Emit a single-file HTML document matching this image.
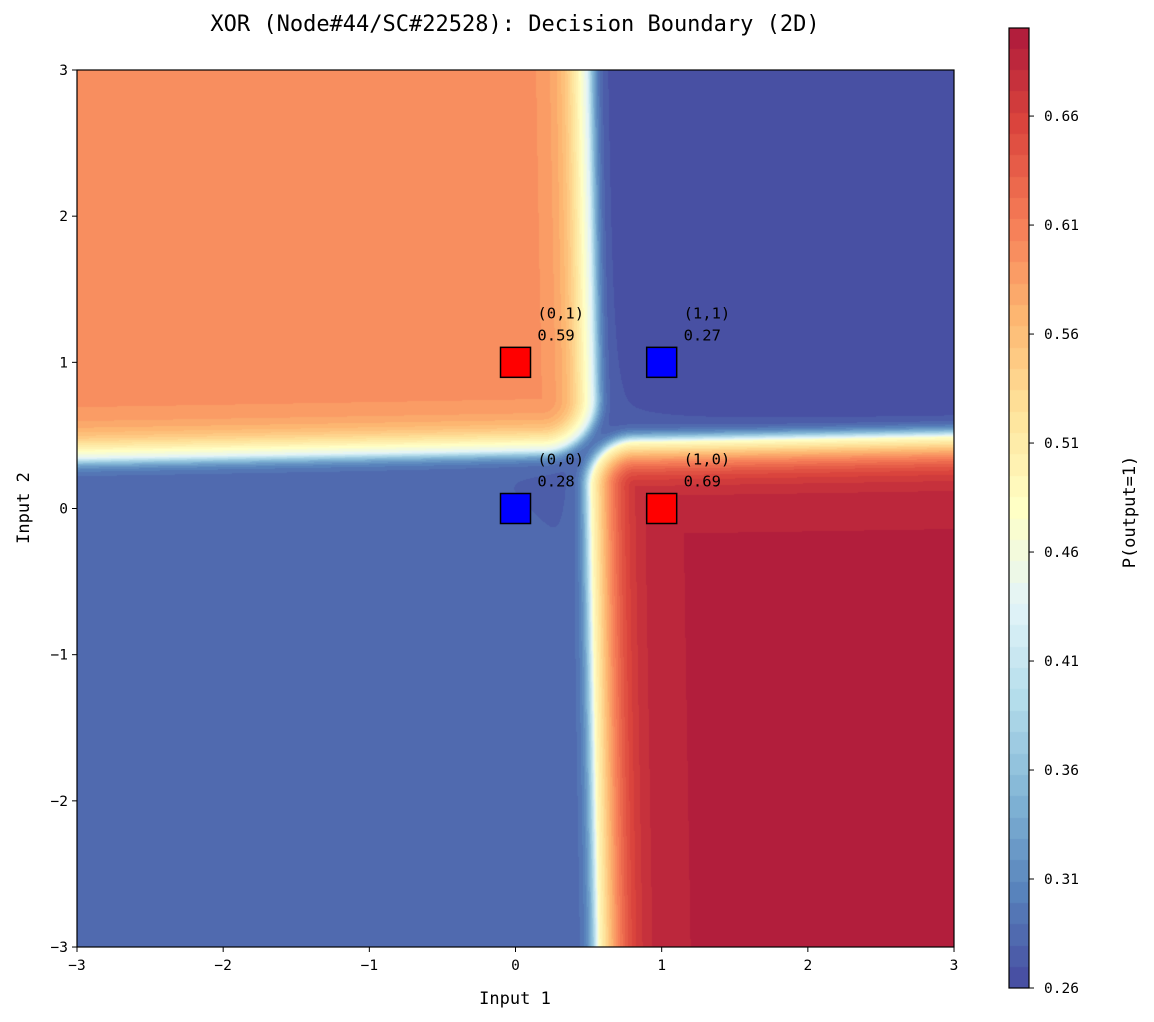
<!DOCTYPE html>
<html><head><meta charset="utf-8"><style>
body{margin:0;background:#fff;width:1154px;height:1022px;position:relative;overflow:hidden;font-family:"DejaVu Sans Mono","Liberation Mono",monospace;}
.t{position:absolute;color:#000;white-space:nowrap}
</style></head><body>
<div class="t" style="left:0;width:1030px;text-align:center;top:12px;font-size:22px">XOR (Node#44/SC#22528): Decision Boundary (2D)</div>
<canvas id="field" width="877" height="877" style="position:absolute;left:77px;top:70px"></canvas>
<canvas id="cbar" width="20" height="960" style="position:absolute;left:1009px;top:28px"></canvas>
<svg id="ov" width="1154" height="1022" style="position:absolute;left:0;top:0"></svg>
<script>
const inputs1=[0,0,1,1];
const inputs2=[0,1,0,1];
const probs=[0.28,0.59,0.69,0.27];
const targets=[0,1,1,0];
const regionVals=[0.282,0.598,0.692,0.265]; // bottom-left, top-left, bottom-right, top-right
const axisTicks=[-3,-2,-1,0,1,2,3];
const cbarTicks=[0.26,0.31,0.36,0.41,0.46,0.51,0.56,0.61,0.66];
const vmin=0.26,vmax=0.7004,step=0.0098;
const X0=77,Y0=70,S=146.17;
const sx=v=>X0+(v+3)*S, sy=v=>Y0+(3-v)*S;
const cm=[[49,54,149],[69,117,180],[116,173,209],[171,217,233],[224,243,248],[255,255,191],[254,224,144],[253,174,97],[244,109,67],[215,48,39],[165,0,38]];
function col(p){let t=(p-vmin)/(vmax-vmin);t=Math.max(0,Math.min(1,t))*10;const i=Math.min(9,Math.floor(t)),f=t-i;
return cm[i].map((c,k)=>Math.round((c+(cm[i+1][k]-c)*f)*0.9+255*0.1));}
const sig=z=>1/(1+Math.exp(-z));
function rsd(a,b,r){const qx=r-a,qy=r-b;return -(Math.hypot(Math.max(qx,0),Math.max(qy,0))+Math.min(Math.max(qx,qy),0)-r);}
function wO(sd){return sd<0?sig(30*sd):sig(12*sd);}
function wR(sd){return sd<0?sig(30*sd):sig(10*sd);}
const fc=document.getElementById('field').getContext('2d');
const img=fc.createImageData(877,877);
for(let py=0;py<877;py++){const y=3-py/S;
for(let px=0;px<877;px++){const x=px/S-3;
const bxO=0.54-0.017*y, byO=0.40+0.017*x;
const bxR=0.52-0.017*y, byR=0.44+0.017*x;
const a=wO(rsd(bxO-x,y-byO,0.35)), b=wR(rsd(x-bxR,byR-y,0.3));
const tb=sig(2*(x+y-1));
const blue=regionVals[0]*(1-tb)+regionVals[3]*tb;
let p=blue+a*(regionVals[1]-blue)+b*(regionVals[2]-blue);
p=vmin+Math.floor((p-vmin)/step)*step+step/2;
const c=col(p),o=(py*877+px)*4;img.data[o]=c[0];img.data[o+1]=c[1];img.data[o+2]=c[2];img.data[o+3]=255;}}
fc.putImageData(img,0,0);
const cc=document.getElementById('cbar').getContext('2d');
for(let y=0;y<960;y++){const p=vmax-y/960*(vmax-vmin);const q=vmin+Math.floor((p-vmin)/step)*step+step/2;const c=col(q);cc.fillStyle=`rgb(${c})`;cc.fillRect(0,y,20,1);}
const ov=document.getElementById('ov'),NS='http://www.w3.org/2000/svg';
function el(t,a,txt){const e=document.createElementNS(NS,t);for(const k in a)e.setAttribute(k,a[k]);if(txt!==undefined)e.textContent=txt;ov.appendChild(e);return e;}
let f=el('rect',{x:X0,y:Y0,width:877,height:877,fill:'none',stroke:'#000','stroke-width':1.2});


axisTicks.forEach(v=>{
let a=el('line',{x1:sx(v),x2:sx(v),y1:947,y2:952,stroke:'#000'});


let b=el('text',{x:sx(v),y:970,'text-anchor':'middle','font-size':14.5,'font-family':'DejaVu Sans Mono'},v<0?'\u2212'+(-v):v);


let c=el('line',{x1:72,x2:77,y1:sy(v),y2:sy(v),stroke:'#000'});


let d=el('text',{x:68,y:sy(v)+5,'text-anchor':'end','font-size':14.5,'font-family':'DejaVu Sans Mono'},v<0?'\u2212'+(-v):v);


});
let xl=el('text',{x:515,y:1004,'text-anchor':'middle','font-size':17,'font-family':'DejaVu Sans Mono'},'Input 1');


let yl=el('text',{x:29,y:508,'text-anchor':'middle','font-size':17,'font-family':'DejaVu Sans Mono',transform:'rotate(-90 29 508)'},'Input 2');


inputs1.forEach((a,i)=>{const b=inputs2[i];
let r=el('rect',{x:sx(a)-15,y:sy(b)-15,width:30,height:30,fill:targets[i]?'#ff0000':'#0000ff',stroke:'#000','stroke-width':1.5});


let t1=el('text',{x:sx(a+0.15),y:sy(b+0.3),'font-size':15.5,'font-family':'DejaVu Sans Mono'},`(${a},${b})`);


let t2=el('text',{x:sx(a+0.15),y:sy(b+0.15),'font-size':15.5,'font-family':'DejaVu Sans Mono'},probs[i].toFixed(2));


});
let cf=el('rect',{x:1009,y:28,width:20,height:960,fill:'none',stroke:'#000','stroke-width':1.2});


const cy=v=>988-(v-vmin)/(vmax-vmin)*960;
cbarTicks.forEach(v=>{
let a=el('line',{x1:1029,x2:1034,y1:cy(v),y2:cy(v),stroke:'#000'});


let b=el('text',{x:1044,y:cy(v)+5,'font-size':14.5,'font-family':'DejaVu Sans Mono'},v.toFixed(2));


});
let ct=el('text',{x:1135,y:512,'text-anchor':'middle','font-size':17,'font-family':'DejaVu Sans Mono',transform:'rotate(-90 1135 512)'},'P(output=1)');


</script>
</body></html>
